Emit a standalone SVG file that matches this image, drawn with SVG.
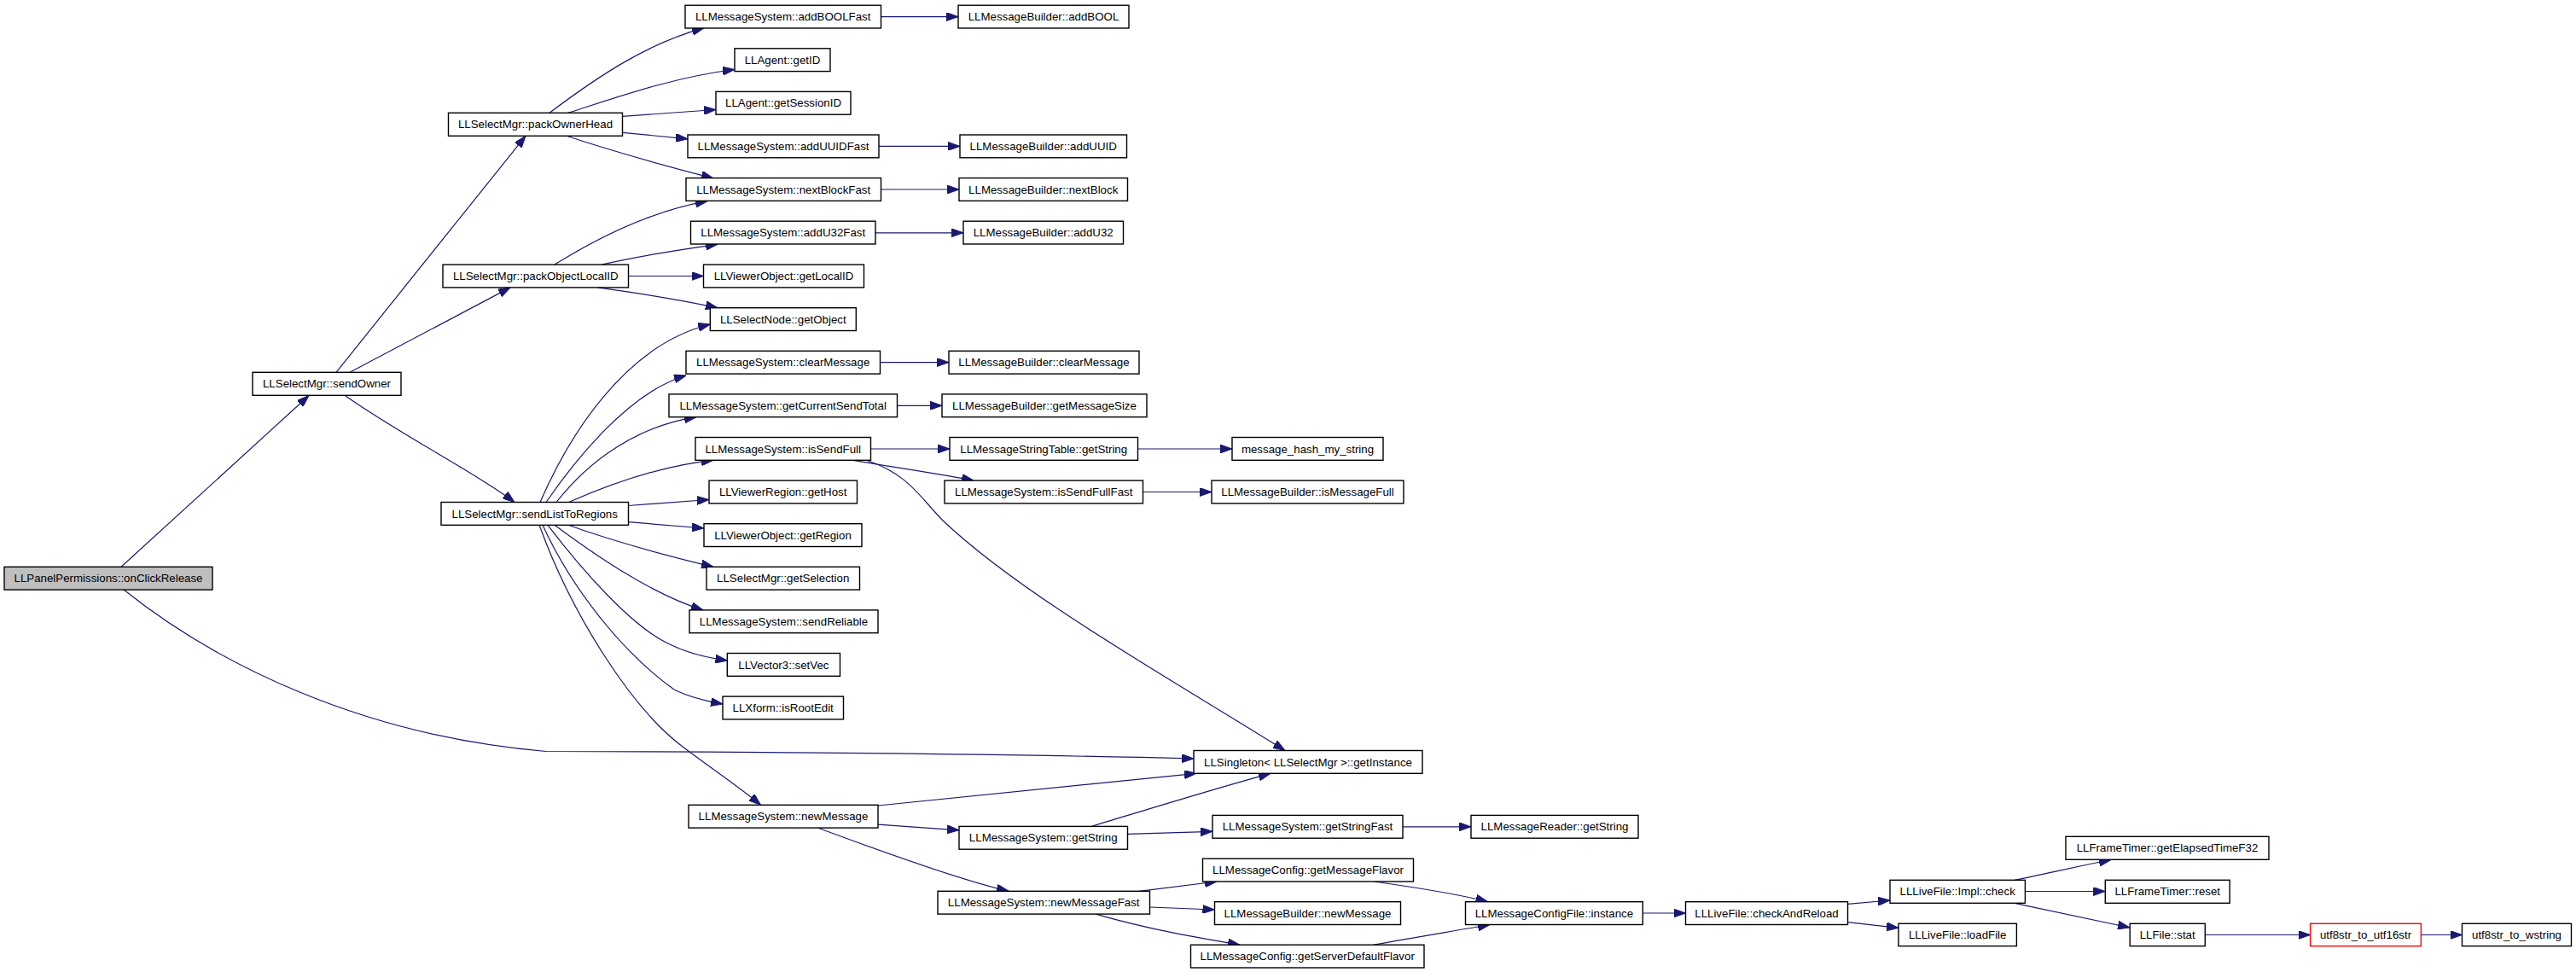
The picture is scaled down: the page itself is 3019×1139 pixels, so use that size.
<svg xmlns="http://www.w3.org/2000/svg" width="3019" height="1139" viewBox="0 0 3019 1139">
<style>
.node rect{fill:#ffffff;stroke:#000000;stroke-width:1.4}
.node text{font-family:"Liberation Sans",Arial,Helvetica,sans-serif;font-size:13.3px;fill:#000000;text-anchor:middle}
#edges path{fill:none;stroke:#191970;stroke-width:1.2;marker-end:url(#arr)}
</style>
<defs>
<marker id="arr" markerUnits="userSpaceOnUse" markerWidth="14" markerHeight="10" viewBox="0 0 14 10" refX="14" refY="5" orient="auto">
<path d="M0,0 L14,5 L0,10 z" fill="#191970" stroke="#191970" stroke-width="1"/>
</marker>
</defs>
<rect x="0" y="0" width="3019" height="1139" fill="#ffffff"/>
<g id="edges">
<path d="M142,664.3 L362,463.5"/>
<path d="M145,691 C250,775 420,862 640,880.5 C900,881 1200,884 1399,889"/>
<path d="M394,436.3 L616,159.3"/>
<path d="M410,436.3 L598,336.9"/>
<path d="M404,463.3 C470,510 560,555 603,588.5"/>
<path d="M644,132.3 C700,90 760,50 825,32.8"/>
<path d="M666,132.3 C720,115 790,90 861,81.5"/>
<path d="M729.5,136.3 L839,128.5"/>
<path d="M729.5,155.3 L806,162.8"/>
<path d="M664,159.3 C720,178 790,197 836,208.9"/>
<path d="M650,310.1 C695,282 760,248 829,235.7"/>
<path d="M705,310.1 C750,300 800,292 841,286.3"/>
<path d="M736.5,323.5 L824.5,323.5"/>
<path d="M700,336.9 C760,345 805,353 841,360.7"/>
<path d="M633,588.5 C665,515 730,405 832.3,380"/>
<path d="M640,588.5 C670,545 735,460 804,440"/>
<path d="M652,588.5 C690,540 745,500 816,488.7"/>
<path d="M666.5,588.5 C720,565 780,545 836,539.3"/>
<path d="M736.5,592.5 L831,585.5"/>
<path d="M736.5,611.7 L825,619"/>
<path d="M666,615.3 C715,633 785,652 836,664.3"/>
<path d="M650,615.3 C690,645 760,695 824,714.9"/>
<path d="M642,615.3 C680,665 740,735 785,755 C805,765 830,771 852.5,774"/>
<path d="M636,615.3 C670,690 730,765 790,808 C810,818 830,822 847,825"/>
<path d="M632,615.3 C670,720 740,830 800,875 C840,905 870,925 891.5,943.3"/>
<path d="M1032.5,19.6 L1123,19.6"/>
<path d="M1030,171.4 L1125,171.4"/>
<path d="M1032.5,222 L1124,222"/>
<path d="M1026,272.8 L1129,272.8"/>
<path d="M1031.5,424.6 L1112,424.6"/>
<path d="M1051.5,475.3 L1104,475.3"/>
<path d="M1020.5,526 L1113,526"/>
<path d="M1333.5,526 L1444,526"/>
<path d="M1000,539.3 C1050,548 1100,555 1141,563.1"/>
<path d="M1015,539.3 C1065,555 1080,585 1105,610 C1200,700 1380,800 1506,879.5"/>
<path d="M1339.5,576.5 L1420,576.5"/>
<path d="M1029,944 L1402,906.3"/>
<path d="M1029,966.2 L1124,972.8"/>
<path d="M959,970.3 C1020,993 1120,1030 1182,1044.3"/>
<path d="M1279,968.4 C1340,950 1420,925 1489,906.3"/>
<path d="M1321.5,977.3 L1421,974.3"/>
<path d="M1644,968.8 L1724,968.8"/>
<path d="M1335,1044.3 L1426,1033"/>
<path d="M1347.5,1063 L1423.5,1066"/>
<path d="M1284,1071.1 C1350,1090 1410,1100 1453,1107.2"/>
<path d="M1610,1033 C1660,1040 1710,1048 1743.5,1056.7"/>
<path d="M1610,1107.2 C1660,1098 1710,1090 1746,1083.5"/>
<path d="M1925.3,1070 L1975.5,1070"/>
<path d="M2165.6,1059.3 L2215,1055"/>
<path d="M2165.6,1080.7 L2225,1087.3"/>
<path d="M2361,1031.3 C2390,1026 2430,1016 2474,1007.5"/>
<path d="M2373.4,1044.5 L2467.3,1044.5"/>
<path d="M2361,1058.3 L2496,1087"/>
<path d="M2584.3,1095.5 L2707.6,1095.5"/>
<path d="M2837.4,1095.5 L2885.5,1095.5"/>
</g>
<g id="n_onClickRelease" class="node"><rect x="5" y="664.3" width="244" height="26.8" style="fill:#bfbfbf"/><text x="127" y="682.3">LLPanelPermissions::onClickRelease</text></g>
<g id="n_sendOwner" class="node"><rect x="296" y="436.3" width="174" height="27"/><text x="383" y="454.3">LLSelectMgr::sendOwner</text></g>
<g id="n_packOwnerHead" class="node"><rect x="525.5" y="132.3" width="204" height="27"/><text x="627.5" y="150.3">LLSelectMgr::packOwnerHead</text></g>
<g id="n_packObjectLocalID" class="node"><rect x="519" y="310.1" width="217.5" height="26.8"/><text x="627.7" y="328.1">LLSelectMgr::packObjectLocalID</text></g>
<g id="n_sendListToRegions" class="node"><rect x="517" y="588.5" width="219.5" height="26.8"/><text x="626.7" y="606.5">LLSelectMgr::sendListToRegions</text></g>
<g id="n_addBOOLFast" class="node"><rect x="803" y="6.2" width="229.5" height="26.8"/><text x="917.7" y="24.2">LLMessageSystem::addBOOLFast</text></g>
<g id="n_addBOOL" class="node"><rect x="1123" y="6.2" width="200" height="26.8"/><text x="1223" y="24.2">LLMessageBuilder::addBOOL</text></g>
<g id="n_getID" class="node"><rect x="861" y="56.8" width="112" height="26.8"/><text x="917" y="74.8">LLAgent::getID</text></g>
<g id="n_getSessionID" class="node"><rect x="839" y="107.4" width="158" height="26.8"/><text x="918" y="125.4">LLAgent::getSessionID</text></g>
<g id="n_addUUIDFast" class="node"><rect x="806" y="158" width="224" height="26.8"/><text x="918" y="176">LLMessageSystem::addUUIDFast</text></g>
<g id="n_addUUID" class="node"><rect x="1125" y="158" width="195.5" height="26.8"/><text x="1222.7" y="176">LLMessageBuilder::addUUID</text></g>
<g id="n_nextBlockFast" class="node"><rect x="804" y="208.6" width="228.5" height="26.8"/><text x="918.2" y="226.6">LLMessageSystem::nextBlockFast</text></g>
<g id="n_nextBlock" class="node"><rect x="1124" y="208.6" width="197.5" height="26.8"/><text x="1222.7" y="226.6">LLMessageBuilder::nextBlock</text></g>
<g id="n_addU32Fast" class="node"><rect x="809.5" y="259.2" width="216.5" height="26.8"/><text x="917.7" y="277.2">LLMessageSystem::addU32Fast</text></g>
<g id="n_addU32" class="node"><rect x="1129" y="259.2" width="187.5" height="26.8"/><text x="1222.7" y="277.2">LLMessageBuilder::addU32</text></g>
<g id="n_getLocalID" class="node"><rect x="824.5" y="310.1" width="188" height="26.8"/><text x="918.5" y="328.1">LLViewerObject::getLocalID</text></g>
<g id="n_getObject" class="node"><rect x="832.3" y="360.7" width="171" height="26.8"/><text x="917.8" y="378.7">LLSelectNode::getObject</text></g>
<g id="n_MS_clearMessage" class="node"><rect x="804" y="411.3" width="227.5" height="26.8"/><text x="917.7" y="429.3">LLMessageSystem::clearMessage</text></g>
<g id="n_MB_clearMessage" class="node"><rect x="1112" y="411.3" width="223" height="26.8"/><text x="1223.5" y="429.3">LLMessageBuilder::clearMessage</text></g>
<g id="n_getCurrentSendTotal" class="node"><rect x="784" y="461.9" width="267.5" height="26.8"/><text x="917.7" y="479.9">LLMessageSystem::getCurrentSendTotal</text></g>
<g id="n_getMessageSize" class="node"><rect x="1104" y="461.9" width="240" height="26.8"/><text x="1224" y="479.9">LLMessageBuilder::getMessageSize</text></g>
<g id="n_isSendFull" class="node"><rect x="815" y="512.5" width="205.5" height="26.8"/><text x="917.7" y="530.5">LLMessageSystem::isSendFull</text></g>
<g id="n_MST_getString" class="node"><rect x="1113" y="512.5" width="220.5" height="26.8"/><text x="1223.2" y="530.5">LLMessageStringTable::getString</text></g>
<g id="n_message_hash_my_string" class="node"><rect x="1444" y="512.5" width="177" height="26.8"/><text x="1532.5" y="530.5">message_hash_my_string</text></g>
<g id="n_getHost" class="node"><rect x="831" y="563.1" width="173.5" height="26.8"/><text x="917.7" y="581.1">LLViewerRegion::getHost</text></g>
<g id="n_isSendFullFast" class="node"><rect x="1107" y="563.1" width="232.5" height="26.8"/><text x="1223.2" y="581.1">LLMessageSystem::isSendFullFast</text></g>
<g id="n_isMessageFull" class="node"><rect x="1420" y="563.1" width="225" height="26.8"/><text x="1532.5" y="581.1">LLMessageBuilder::isMessageFull</text></g>
<g id="n_getRegion" class="node"><rect x="825" y="613.7" width="185" height="26.8"/><text x="917.5" y="631.7">LLViewerObject::getRegion</text></g>
<g id="n_getSelection" class="node"><rect x="828" y="664.3" width="179.5" height="26.8"/><text x="917.7" y="682.3">LLSelectMgr::getSelection</text></g>
<g id="n_sendReliable" class="node"><rect x="808" y="714.9" width="221" height="26.8"/><text x="918.5" y="732.9">LLMessageSystem::sendReliable</text></g>
<g id="n_setVec" class="node"><rect x="852.3" y="765.5" width="132.2" height="26.8"/><text x="918.4" y="783.5">LLVector3::setVec</text></g>
<g id="n_isRootEdit" class="node"><rect x="847" y="816.1" width="141.5" height="26.8"/><text x="917.7" y="834.1">LLXform::isRootEdit</text></g>
<g id="n_getInstance" class="node"><rect x="1399" y="879.5" width="268" height="26.8"/><text x="1533" y="897.5">LLSingleton&lt; LLSelectMgr &gt;::getInstance</text></g>
<g id="n_newMessage" class="node"><rect x="807" y="943.3" width="222" height="26.8"/><text x="918" y="961.3">LLMessageSystem::newMessage</text></g>
<g id="n_MS_getString" class="node"><rect x="1124" y="968.4" width="197.5" height="26.8"/><text x="1222.7" y="986.4">LLMessageSystem::getString</text></g>
<g id="n_getStringFast" class="node"><rect x="1421" y="955.4" width="223" height="26.8"/><text x="1532.5" y="973.4">LLMessageSystem::getStringFast</text></g>
<g id="n_MR_getString" class="node"><rect x="1724" y="955.4" width="196" height="26.8"/><text x="1822" y="973.4">LLMessageReader::getString</text></g>
<g id="n_getMessageFlavor" class="node"><rect x="1409.5" y="1006.2" width="247" height="26.8"/><text x="1533" y="1024.2">LLMessageConfig::getMessageFlavor</text></g>
<g id="n_newMessageFast" class="node"><rect x="1099" y="1044.3" width="248.5" height="26.8"/><text x="1223.2" y="1062.3">LLMessageSystem::newMessageFast</text></g>
<g id="n_MB_newMessage" class="node"><rect x="1423.5" y="1056.7" width="218" height="26.8"/><text x="1532.5" y="1074.7">LLMessageBuilder::newMessage</text></g>
<g id="n_ConfigFile_instance" class="node"><rect x="1717.5" y="1056.7" width="207.8" height="26.8"/><text x="1821.4" y="1074.7">LLMessageConfigFile::instance</text></g>
<g id="n_getServerDefaultFlavor" class="node"><rect x="1395.5" y="1107.2" width="273.5" height="26.8"/><text x="1532.2" y="1125.2">LLMessageConfig::getServerDefaultFlavor</text></g>
<g id="n_checkAndReload" class="node"><rect x="1975.5" y="1056.7" width="190" height="26.8"/><text x="2070.5" y="1074.7">LLLiveFile::checkAndReload</text></g>
<g id="n_Impl_check" class="node"><rect x="2215" y="1031.3" width="158.4" height="27"/><text x="2294.2" y="1049.3">LLLiveFile::Impl::check</text></g>
<g id="n_loadFile" class="node"><rect x="2225" y="1082.3" width="138.4" height="26.3"/><text x="2294.2" y="1100">LLLiveFile::loadFile</text></g>
<g id="n_getElapsedTimeF32" class="node"><rect x="2421" y="980.3" width="238" height="27"/><text x="2540" y="998.3">LLFrameTimer::getElapsedTimeF32</text></g>
<g id="n_reset" class="node"><rect x="2467.3" y="1031.3" width="145.9" height="27"/><text x="2540.2" y="1049.3">LLFrameTimer::reset</text></g>
<g id="n_LLFile_stat" class="node"><rect x="2496.2" y="1082.3" width="88.1" height="26.3"/><text x="2540.2" y="1100">LLFile::stat</text></g>
<g id="n_utf8str_to_utf16str" class="node"><rect x="2707.6" y="1082.3" width="129.8" height="26.3" style="stroke:#ff0000"/><text x="2772.5" y="1100">utf8str_to_utf16str</text></g>
<g id="n_utf8str_to_wstring" class="node"><rect x="2885.5" y="1082.3" width="128" height="26.3"/><text x="2949.5" y="1100">utf8str_to_wstring</text></g>
</svg>
